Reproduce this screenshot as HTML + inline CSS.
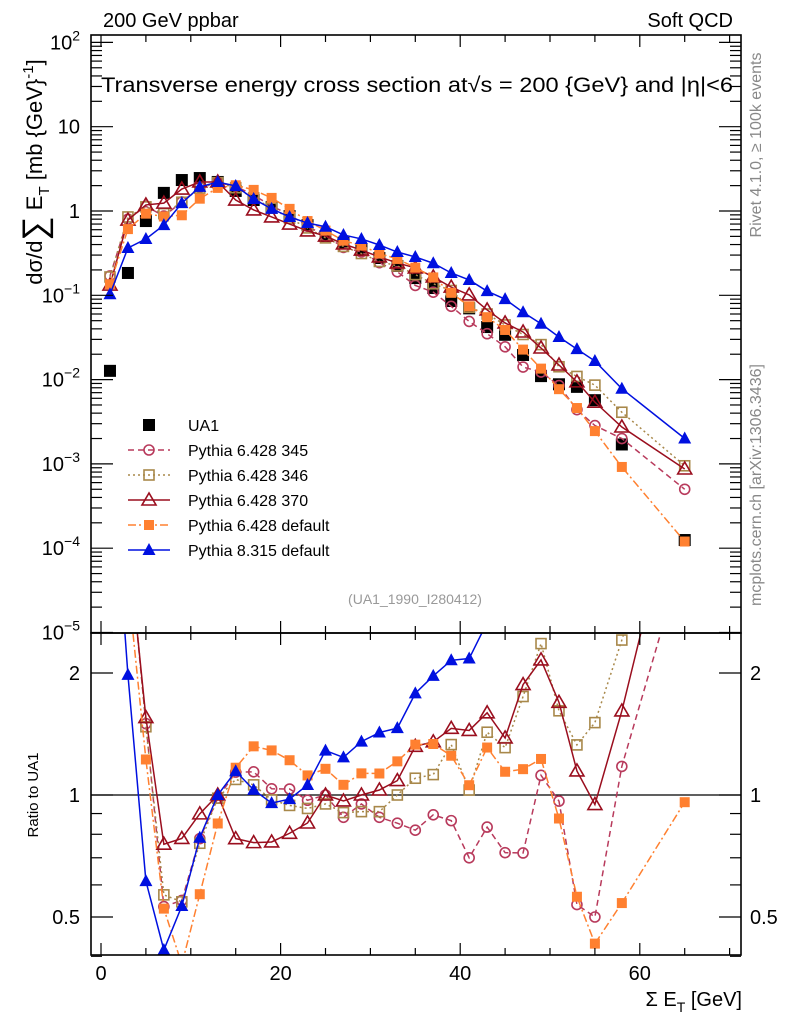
<!DOCTYPE html>
<html><head><meta charset="utf-8"><style>
body{margin:0;background:#fff;}
svg{display:block;font-family:"Liberation Sans",sans-serif;}
</style></head><body>
<svg id="c" width="786" height="1024" xmlns="http://www.w3.org/2000/svg">
<text x="103" y="27" font-size="20">200 GeV ppbar</text>
<text x="733" y="27" font-size="20" text-anchor="end">Soft QCD</text>
<text x="101" y="92" font-size="21" textLength="632" lengthAdjust="spacingAndGlyphs">Transverse energy cross section at√s = 200 {GeV} and |η|&lt;6</text>
<text transform="translate(761,145) rotate(-90)" font-size="16" fill="#888" text-anchor="middle">Rivet 4.1.0, ≥ 100k events</text>
<text transform="translate(761,485) rotate(-90)" font-size="16" fill="#888" text-anchor="middle">mcplots.cern.ch [arXiv:1306.3436]</text>
<text transform="translate(42,172) rotate(-90)" font-size="22" text-anchor="middle">dσ/d<tspan font-size="34" dy="4">∑</tspan><tspan dy="-4"> E</tspan><tspan font-size="15" dy="7">T</tspan><tspan dy="-7"> [mb {GeV}</tspan><tspan font-size="15" dy="-9">-1</tspan><tspan dy="9">]</tspan></text>
<text transform="translate(38,795) rotate(-90)" font-size="15" text-anchor="middle">Ratio to UA1</text>
<text x="415" y="604" font-size="14" fill="#999" text-anchor="middle">(UA1_1990_I280412)</text>
<text x="742" y="1006" font-size="20" text-anchor="end">Σ E<tspan font-size="14" dy="6">T</tspan><tspan dy="-6"> [GeV]</tspan></text>
</svg>
<script>
const xs=[1,3,5,7,9,11,13,15,17,19,21,23,25,27,29,31,33,35,37,39,41,43,45,47,49,51,53,55,58,65];
const ua1=[0.0127,0.184,0.76,1.64,2.33,2.46,2.21,1.73,1.35,1.11,0.87,0.68,0.505,0.42,0.344,0.277,0.223,0.160,0.122,0.0856,0.070,0.042,0.034,0.0196,0.011,0.0088,0.0082,0.0057,0.0017,0.000125];
const p345=[0.17,0.80,1.14,0.87,1.28,1.92,2.17,1.97,1.54,1.15,0.90,0.66,0.505,0.37,0.327,0.244,0.19,0.131,0.109,0.074,0.049,0.035,0.0245,0.0141,0.0123,0.0085,0.0044,0.00285,0.0020,0.0005];
const p346=[0.165,0.85,1.12,0.93,1.27,1.87,2.17,1.89,1.43,1.08,0.82,0.63,0.48,0.38,0.313,0.252,0.223,0.176,0.137,0.114,0.072,0.060,0.0445,0.0343,0.026,0.0142,0.0109,0.0086,0.0041,0.00095];
const p370=[0.132,0.78,1.18,1.24,1.82,2.21,2.21,1.35,1.03,0.85,0.70,0.58,0.505,0.406,0.344,0.285,0.242,0.211,0.165,0.125,0.101,0.067,0.047,0.0367,0.0237,0.0149,0.0094,0.0054,0.00274,0.00087];
const pdef=[0.135,0.61,0.93,0.86,0.89,1.40,1.88,2.02,1.78,1.43,1.06,0.76,0.586,0.445,0.389,0.313,0.27,0.213,0.163,0.107,0.074,0.055,0.0388,0.0227,0.0135,0.0077,0.0046,0.00245,0.00092,0.00012];
const p8=[0.103,0.364,0.466,0.68,1.24,1.93,2.21,1.98,1.39,1.06,0.85,0.72,0.65,0.52,0.466,0.395,0.326,0.285,0.24,0.184,0.152,0.112,0.090,0.063,0.046,0.032,0.023,0.0166,0.0078,0.0020];
const xTicks=[0,20,40,60];
const mainTicks=[2,1,0,-1,-2,-3,-4,-5];
const ratioTicks=[2,1,0.5];

const NS="http://www.w3.org/2000/svg";
const svg=document.getElementById('c');
const X=v=>101+8.98*v;
const YM=v=>211-84.3*Math.log10(v);
const YR=r=>795-122*Math.log2(r);
const L=91,R=741,T=35,MB=633,B=955;
function mk(tag,at,parent){const e=document.createElementNS(NS,tag);for(const k in at)e.setAttribute(k,at[k]);(parent||svg).appendChild(e);return e;}
const defs=mk('defs',{});
const c1=mk('clipPath',{id:'cm'},defs);mk('rect',{x:L,y:T,width:R-L,height:MB-T},c1);
const c2=mk('clipPath',{id:'cr'},defs);mk('rect',{x:L,y:MB,width:R-L,height:B-MB},c2);

const series=[
 {d:p345,name:'Pythia 6.428 345',col:'#b83a5c',dash:'6,4',m:'circle'},
 {d:p346,name:'Pythia 6.428 346',col:'#a8884a',dash:'2,3',m:'osquare'},
 {d:p370,name:'Pythia 6.428 370',col:'#9a0e1e',dash:'',m:'otri'},
 {d:pdef,name:'Pythia 6.428 default',col:'#ff8030',dash:'8,3,2,3',m:'fsquare'},
 {d:p8,name:'Pythia 8.315 default',col:'#0010e0',dash:'',m:'ftri'}];

function marker(g,m,x,y,col){
 if(m==='circle')return mk('circle',{cx:x,cy:y,r:5,fill:'none',stroke:col,'stroke-width':1.6},g);
 if(m==='osquare')return mk('rect',{x:x-5,y:y-5,width:10,height:10,fill:'none',stroke:col,'stroke-width':1.6},g);
 if(m==='fsquare')return mk('rect',{x:x-5,y:y-5,width:10,height:10,fill:col},g);
 if(m==='usquare')return mk('rect',{x:x-6,y:y-6,width:12,height:12,fill:'#000'},g);
 if(m==='otri')return mk('polygon',{points:`${x},${y-7} ${x-7},${y+5} ${x+7},${y+5}`,fill:'none',stroke:col,'stroke-width':1.6},g);
 return mk('polygon',{points:`${x},${y-7} ${x-6.5},${y+5} ${x+6.5},${y+5}`,fill:col},g);
}

const gm=mk('g',{'clip-path':'url(#cm)'});


const gu=mk('g',{},gm);


ua1.forEach((v,i)=>{const e=marker(gu,'usquare',X(xs[i]),YM(v),'#000');
 
 });
series.forEach(s=>{
 const g=mk('g',{},gm);
 
 
 const p=mk('polyline',{points:s.d.map((v,i)=>X(xs[i])+','+YM(v)).join(' '),fill:'none',stroke:s.col,'stroke-width':1.5,'stroke-dasharray':s.dash},g);
 
 
 s.d.forEach((v,i)=>{const e=marker(g,s.m,X(xs[i]),YM(v),s.col);
  
  });
});

mk('rect',{x:L,y:MB,width:R-L,height:B-MB,fill:'#fff'});
const gr=mk('g',{'clip-path':'url(#cr)'});


mk('line',{x1:L,x2:R,y1:YR(1),y2:YR(1),stroke:'#000','stroke-width':1.3},gr);
series.forEach(s=>{
 const g=mk('g',{},gr);
 
 
 const r=s.d.map((v,i)=>v/ua1[i]);
 const p=mk('polyline',{points:r.map((v,i)=>X(xs[i])+','+YR(v)).join(' '),fill:'none',stroke:s.col,'stroke-width':1.5,'stroke-dasharray':s.dash},g);
 
 
 r.forEach((v,i)=>{const e=marker(g,s.m,X(xs[i]),YR(v),s.col);
  
  });
});

const f1=mk('rect',{x:L,y:T,width:R-L,height:MB-T,fill:'none',stroke:'#000','stroke-width':1.6});


const f2=mk('rect',{x:L,y:MB,width:R-L,height:B-MB,fill:'none',stroke:'#000','stroke-width':1.6});



for(let v=0;v<=70;v+=5){const x=X(v),len=v%20===0?12:7;
 [[T,1],[MB,-1],[MB,1],[B,-1]].forEach(([y,d])=>mk('line',{x1:x,x2:x,y1:y,y2:y+d*len,stroke:'#000','stroke-width':1.2}));}
xTicks.forEach(v=>{const t=mk('text',{x:X(v),y:980,'font-size':20,'text-anchor':'middle'});t.textContent=v;
 
 });

for(let e=-5;e<=2;e++){
 for(let k=1;k<10;k++){const y=YM(k*Math.pow(10,e));if(y<T||y>MB)continue;const len=k===1?22:11;
  mk('line',{x1:L,x2:L+len,y1:y,y2:y,stroke:'#000','stroke-width':1.2});
  mk('line',{x1:R,x2:R-len,y1:y,y2:y,stroke:'#000','stroke-width':1.2});}
}
mainTicks.forEach(e=>{const y=YM(Math.pow(10,e));const t=mk('text',{x:80,y:y+7,'font-size':20,'text-anchor':'end'});
 if(e===0)t.textContent='1';else if(e===1)t.textContent='10';
 else{t.textContent='10';const s=mk('tspan',{dy:-9,'font-size':14},t);s.textContent=e===2?'2':'−'+(-e);}
 
 });
[0.4,0.5,0.6,0.7,0.8,0.9,1,2].forEach(r=>{const y=YR(r);const len=(r===1||r===2||r===0.5)?22:11;
 mk('line',{x1:L,x2:L+len,y1:y,y2:y,stroke:'#000','stroke-width':1.2});
 mk('line',{x1:R,x2:R-len,y1:y,y2:y,stroke:'#000','stroke-width':1.2});});
ratioTicks.forEach(r=>{const y=YR(r);
 const t=mk('text',{x:80,y:y+7,'font-size':20,'text-anchor':'end'});t.textContent=r;
 
 
 const t2=mk('text',{x:750,y:y+7,'font-size':20});t2.textContent=r;
 
 });

const lg=mk('g',{});


const ents=[{name:'UA1',m:'usquare',col:'#000',dash:null}].concat(series);
ents.forEach((s,i)=>{const y=425+25*i;
 const g=mk('g',{},lg);
 
 
 if(s.dash!==null)mk('line',{x1:128,x2:170,y1:y,y2:y,stroke:s.col,'stroke-width':1.5,'stroke-dasharray':s.dash},g);
 marker(g,s.m,149,y,s.col);
 const t=mk('text',{x:188,y:y+6,'font-size':16},g);t.textContent=s.name;});
</script>
</body></html>
